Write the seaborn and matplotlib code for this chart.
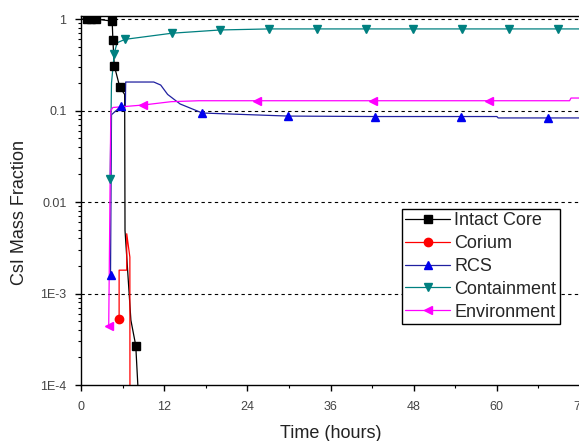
import numpy as np
import pandas as pd
import seaborn as sns
import matplotlib
matplotlib.use("Agg")
from matplotlib import pyplot as plt
from matplotlib import ticker
from matplotlib.lines import Line2D

# CsI mass fraction by location vs time (hours)
core_t = [0, 0.8, 1.4, 2.1, 4.5, 4.6, 4.8, 5.6, 6.3, 6.35, 7.2, 7.9, 8.2, 8.6]
core_v = [1, 1, 1, 1, 0.95, 0.59, 0.31, 0.18, 0.15, 4.9e-3, 5.1e-4, 2.7e-4, 1e-4, 1e-5]
core_marks = [1, 2, 3, 4, 5, 6, 7, 11]

corium_t = [5.5, 5.5, 6.6, 6.6, 7.05, 7.08]
corium_v = [5.3e-4, 1.8e-3, 1.8e-3, 4.5e-3, 2.5e-3, 1e-6]
corium_marks = [0]

rcs_t = [4.26, 4.4, 5.8, 6.4, 6.45, 10.5, 11.5, 12.5, 14.3, 17.5, 29.9, 42.4,
         54.8, 60.0, 60.2, 67.4, 80]
rcs_v = [1.6e-3, 0.09, 0.112, 0.112, 0.205, 0.205, 0.19, 0.15, 0.118, 0.094,
         0.087, 0.086, 0.086, 0.086, 0.083, 0.083, 0.083]
rcs_marks = [0, 2, 9, 10, 11, 12, 15]

cont_t = [4.2, 4.4, 4.8, 5.2, 6.35, 13.1, 20.1, 27.1, 34.0, 41.1, 47.9, 55.0,
          61.8, 68.8, 80]
cont_v = [0.018, 0.2, 0.42, 0.55, 0.6, 0.70, 0.76, 0.78, 0.78, 0.78, 0.78,
          0.78, 0.78, 0.78, 0.78]
cont_marks = [0, 2, 4, 5, 6, 7, 8, 9, 10, 11, 12, 13]

env_t = [4.0, 4.3, 4.6, 9.0, 13.0, 17.0, 25.4, 42.1, 58.9, 70.5, 70.7, 80]
env_v = [4.4e-4, 0.1, 0.108, 0.115, 0.125, 0.128, 0.128, 0.128, 0.128, 0.128,
         0.137, 0.137]
env_marks = [0, 3, 6, 7, 8]

series = [
    ("Intact Core", core_t, core_v, core_marks, "black", "s"),
    ("Corium", corium_t, corium_v, corium_marks, "red", "o"),
    ("RCS", rcs_t, rcs_v, rcs_marks, "#0000ee", "^"),
    ("Containment", cont_t, cont_v, cont_marks, "#008080", "v"),
    ("Environment", env_t, env_v, env_marks, "#ff00ff", "<"),
]
line_colors = {"#0000ee": "#2020a0"}

sns.set_style("ticks")
plt.rcParams['font.family'] = ['Liberation Sans', 'DejaVu Sans']

fig = plt.figure(figsize=(5.79, 4.41), dpi=100)
ax = fig.add_axes([81 / 579, 56 / 441, 499 / 579, 369 / 441])

handles = []
for name, t, v, marks, col, mk in series:
    df = pd.DataFrame({"t": t, "v": v})
    lc = line_colors.get(col, col)
    sns.lineplot(data=df, x="t", y="v", ax=ax, sort=False, estimator=None,
                 color=lc, lw=0.9, legend=False)
    mdf = df.iloc[marks]
    ax.plot(mdf["t"], mdf["v"], ls="none", marker=mk, ms=6, color=col,
            mec=col, zorder=3)
    handles.append(Line2D([], [], color=lc, lw=0.9, marker=mk, ms=6,
                          mfc=col, mec=col, label=name))

ax.set_yscale("log")
ax.set_xlim(0, 72)
ax.set_ylim(1e-4, 1.08)

ax.xaxis.set_major_locator(ticker.MultipleLocator(12))
ax.xaxis.set_minor_locator(ticker.MultipleLocator(6))
ax.yaxis.set_major_locator(ticker.FixedLocator([1e-4, 1e-3, 1e-2, 0.1, 1]))
ax.yaxis.set_major_formatter(ticker.FixedFormatter(["1E-4", "1E-3", "0.01", "0.1", "1"]))
ax.yaxis.set_minor_locator(ticker.LogLocator(subs=np.arange(2, 10)))
ax.yaxis.set_minor_formatter(ticker.NullFormatter())

for y in [1e-3, 1e-2, 0.1, 1]:
    ax.axhline(y, color="black", lw=0.8, ls=(0, (3, 3)), zorder=1)

ax.tick_params(axis="both", which="major", direction="out", length=4.5,
               width=1, labelsize=9, labelcolor="#444444", color="black")
ax.tick_params(axis="x", which="major", pad=7)
ax.tick_params(axis="y", which="major", pad=6)
ax.tick_params(axis="both", which="minor", direction="out", length=2.5,
               width=0.8, color="black")
for s in ax.spines.values():
    s.set_color("black")
    s.set_linewidth(1)

ax.set_xlabel("Time (hours)", fontsize=13, color="#222222", labelpad=9)
ax.set_ylabel("CsI Mass Fraction", fontsize=13, color="#222222")
ax.yaxis.set_label_coords(-0.107, 0.468)

leg = ax.legend(handles=handles, loc="lower left",
                bbox_to_anchor=(0.643, 0.165), fontsize=13, frameon=True,
                fancybox=False, framealpha=1, edgecolor="black",
                handlelength=2.45, handletextpad=0.25, labelspacing=0.32,
                borderpad=0.2, borderaxespad=0)
leg.get_frame().set_linewidth(1)

fig.savefig("out.png", dpi=100)
